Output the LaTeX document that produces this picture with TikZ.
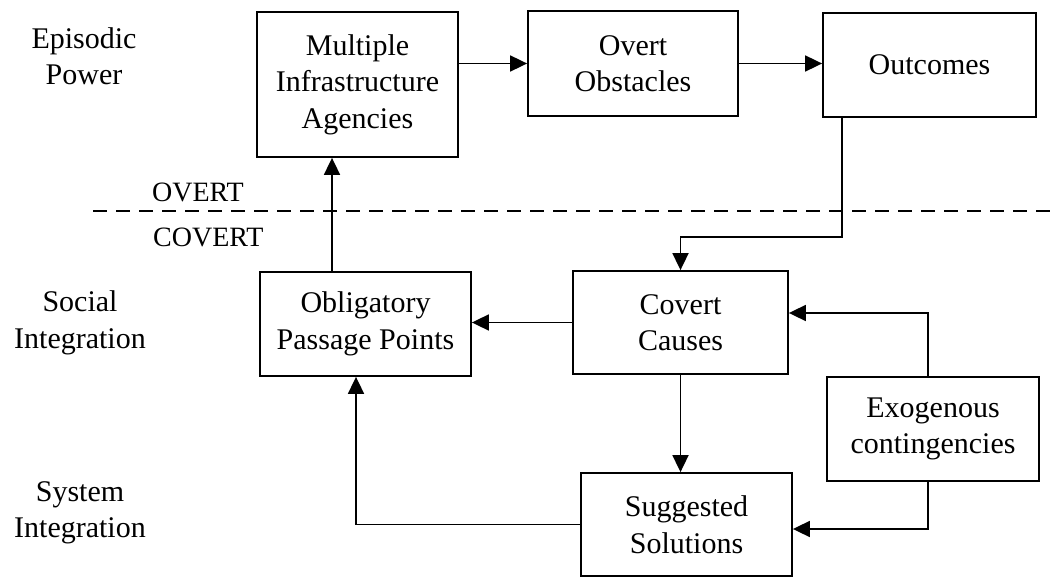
\documentclass[tikz,border=0pt]{standalone}
\usepackage{fontspec}
\setmainfont{Liberation Serif}
\usetikzlibrary{arrows.meta}

\tikzset{
  box/.style={draw, line width=1.8pt, align=center, inner sep=0pt,
    font=\fontsize{30}{36.5}\selectfont},
  side/.style={align=center, inner sep=0pt, font=\fontsize{30}{36.5}\selectfont},
  flow/.style={line width=1.8pt, -{Triangle[length=17pt,width=16pt]}}
}

\begin{document}
\begin{tikzpicture}[x=1pt, y=-1pt]
\useasboundingbox (0,0) rectangle (1059,577);

% Livelli a sinistra
\node[side] (episodic) at (84,56) {Episodic\\Power};
\node[side] (social) at (80,323) {Social\\Integration};
\node[side] (system) at (80,513) {System\\Integration};

% Linea tratteggiata
\coordinate (dashstart) at (93,211);
\coordinate (dashend) at (1059,211);
\draw[line width=1.8pt, dash pattern=on 14pt off 9pt] (dashstart) -- (dashend);
\node[anchor=base west, inner sep=0pt, font=\fontsize{28}{32}\selectfont] (overt) at (152,202) {OVERT};
\node[anchor=base west, inner sep=0pt, font=\fontsize{28}{32}\selectfont] (covert) at (153,247) {COVERT};

% Blocchi superiori
\node[box, minimum width=201pt, minimum height=145pt] (agencies) at (357.5,84.5) {Multiple\\Infrastructure\\Agencies};
\node[box, minimum width=210pt, minimum height=105pt] (obstacles) at (633,63.5) {Overt\\Obstacles};
\node[box, minimum width=213pt, minimum height=104pt] (outcomes) at (929.5,65) {Outcomes};

% Blocchi inferiori
\node[box, minimum width=211pt, minimum height=104pt] (passage) at (365.5,324) {Obligatory\\Passage Points};
\node[box, minimum width=215pt, minimum height=103pt] (causes) at (680.5,322.5) {Covert\\Causes};
\node[box, minimum width=212pt, minimum height=104pt] (exogenous) at (933,429) {Exogenous\\contingencies};
\node[box, minimum width=211pt, minimum height=103pt] (solutions) at (686.5,524.5) {Suggested\\Solutions};

% Punti di piega
\coordinate (outdrop) at (842,237);
\coordinate (upline) at (332,0);
\coordinate (leftline) at (356,0);
\coordinate (exotop) at (928,313);
\coordinate (exobot) at (928,529);

% Collegamenti
\draw[flow] (agencies.east |- obstacles.west) -- (obstacles.west);
\draw[flow] (obstacles.east) -- (obstacles.east -| outcomes.west);
\draw[flow] (outdrop |- outcomes.south) -- (outdrop) -| (causes.north);
\draw[flow] (causes.west) -- (causes.west -| passage.east);
\draw[flow] (upline |- passage.north) -- (upline |- agencies.south);
\draw[flow] (causes.south) -- (causes.south |- solutions.north);
\draw[flow] (solutions.west) -| (leftline |- passage.south);
\draw[flow] (exotop |- exogenous.north) -- (exotop) -- (exotop -| causes.east);
\draw[flow] (exobot |- exogenous.south) -- (exobot) -- (exobot -| solutions.east);
\end{tikzpicture}
\end{document}
